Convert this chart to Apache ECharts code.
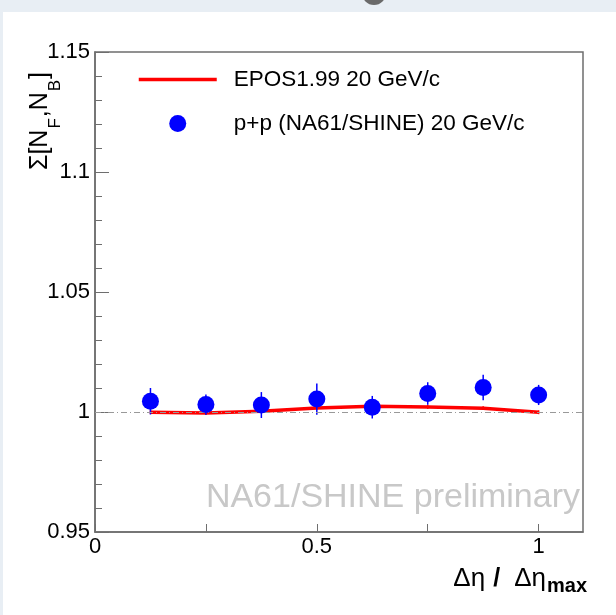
<!DOCTYPE html>
<html>
<head>
<meta charset="utf-8">
<script src="https://cdn.jsdelivr.net/npm/echarts@6/dist/echarts.min.js"></script>
<style>
    html, body { margin: 0; padding: 0; background: #e8eef4; }
    #chart { width: 616px; height: 615px; }
</style>
</head>
<body>
<div id="chart"></div>
<script>
// Δη / Δη_max bins
var xVals = [0.125, 0.25, 0.375, 0.5, 0.625, 0.75, 0.875, 1.0]
// p+p (NA61/SHINE) 20 GeV/c
var ppVals = [1.0045, 1.0031, 1.0029, 1.0054, 1.0020, 1.0077, 1.0102, 1.0071]
var ppErr = [0.0055, 0.0042, 0.0054, 0.0065, 0.0047, 0.0047, 0.0053, 0.0042]
// EPOS1.99 20 GeV/c
var eposVals = [0.9999, 0.9996, 1.0003, 1.0017, 1.0024, 1.0021, 1.0016, 0.9999]
var eposErr = [0.0008, 0.0008, 0.0008, 0.0008, 0.0008, 0.0008, 0.0008, 0.0008]

var xLabels = [0, 0.5, 1]
var refLine = 1

var font = '"Liberation Sans", Arial, Helvetica, sans-serif'

function pairs(xs, ys) {
    return xs.map(function (x, i) { return [x, ys[i]] })
}
function errRows(xs, ys, es) {
    return xs.map(function (x, i) { return [x, ys[i] - es[i], ys[i] + es[i]] })
}
function errBars(color, width) {
    return function (params, api) {
        var lo = api.coord([api.value(0), api.value(1)])
        var hi = api.coord([api.value(0), api.value(2)])
        return {
            type: 'line',
            shape: { x1: lo[0], y1: lo[1], x2: hi[0], y2: hi[1] },
            style: { stroke: color, lineWidth: width }
        }
    }
}

var chart = echarts.init(document.getElementById('chart'))
chart.setOption({
    backgroundColor: '#e8eef4',
    animation: false,
    textStyle: { fontFamily: font },
    graphic: [
        { type: 'rect', z: -10, shape: { x: 3, y: 12, width: 613, height: 603 }, style: { fill: '#ffffff' } },
        { type: 'circle', z: -10, shape: { cx: 374, cy: -7, r: 12 }, style: { fill: '#6a6a6a' } },
        {
            // y axis title, reads bottom to top
            type: 'text', x: 40, y: 121, rotation: Math.PI / 2,
            style: {
                text: '{a|Σ[N}{s|F}{a|,N}{s|B}{a|]}',
                align: 'center', verticalAlign: 'middle', fill: '#000',
                rich: {
                    a: { fontSize: 25, fontFamily: font, fill: '#000' },
                    s: { fontSize: 17, fontFamily: font, fill: '#000', padding: [30, 1, 0, 1] }
                }
            }
        },
        {
            type: 'text', x: 587, y: 579,
            style: {
                text: '{a|Δη}{b|/}{a|Δη}{s|max}',
                align: 'right', verticalAlign: 'middle', fill: '#000',
                rich: {
                    a: { fontSize: 26, fontFamily: font, fill: '#000' },
                    b: { fontSize: 25, fontFamily: font, fontWeight: 'bold', fill: '#000', padding: [0, 14, 0, 8] },
                    s: { fontSize: 20, fontFamily: font, fontWeight: 'bold', fill: '#000', padding: [14, 0, 0, 1] }
                }
            }
        },
        {
            type: 'text', x: 580, y: 498,
            style: {
                text: 'NA61/SHINE preliminary',
                align: 'right', verticalAlign: 'middle',
                fontSize: 34, fontFamily: font, fill: '#c8c8c8'
            }
        }
    ],
    grid: {
        left: 95, right: 33, top: 52, bottom: 83,
        show: true, borderColor: '#6e6e6e', borderWidth: 1.5, backgroundColor: 'transparent'
    },
    legend: {
        orient: 'vertical',
        left: 137, top: 68, padding: 0,
        itemWidth: 78, itemHeight: 17, itemGap: 21,
        data: [
            { name: 'EPOS1.99 20 GeV/c', itemStyle: { opacity: 0 } },
            { name: 'p+p (NA61/SHINE) 20 GeV/c' }
        ],
        lineStyle: { width: 3.5 },
        textStyle: { fontSize: 22.5, lineHeight: 22, color: '#000', fontFamily: font, padding: [0, 0, 0, 12] }
    },
    xAxis: {
        type: 'value', min: 0, max: 1.1, interval: 0.25,
        axisLine: { show: true, lineStyle: { color: '#6e6e6e', width: 1.5 } },
        axisTick: { show: true, inside: true, length: 8, lineStyle: { color: '#6e6e6e' } },
        splitLine: { show: false },
        axisLabel: {
            fontSize: 22, color: '#000', margin: 4, fontFamily: font,
            showMaxLabel: false,
            formatter: function (v) {
                for (var i = 0; i < xLabels.length; i++) {
                    if (Math.abs(v - xLabels[i]) < 1e-6) return String(xLabels[i])
                }
                return ''
            }
        }
    },
    yAxis: {
        type: 'value', min: 0.95, max: 1.15, interval: 0.05,
        axisLine: { show: true, lineStyle: { color: '#6e6e6e', width: 1.5 } },
        axisTick: { show: true, inside: true, length: 14, lineStyle: { color: '#6e6e6e' } },
        minorTick: { show: true, splitNumber: 5, length: 7, lineStyle: { color: '#6e6e6e' } },
        splitLine: { show: false },
        axisLabel: {
            fontSize: 22, color: '#000', margin: 5, fontFamily: font,
            formatter: function (v) { return String(Math.round(v * 100) / 100) }
        }
    },
    series: [
        {
            name: 'EPOS1.99 20 GeV/c',
            type: 'line',
            data: pairs(xVals, eposVals),
            symbol: 'none',
            z: 3,
            lineStyle: { color: '#ff0000', width: 3.5 },
            itemStyle: { color: '#ff0000' },
            markLine: {
                silent: true, symbol: 'none', label: { show: false },
                lineStyle: { color: '#999999', width: 1, type: [6, 3, 1, 3] },
                data: [{ yAxis: refLine }]
            }
        },
        {
            type: 'custom',
            renderItem: errBars('#ff0000', 1.5),
            data: errRows(xVals, eposVals, eposErr),
            z: 3
        },
        {
            type: 'custom',
            renderItem: errBars('#0000ff', 1.5),
            data: errRows(xVals, ppVals, ppErr),
            z: 4
        },
        {
            name: 'p+p (NA61/SHINE) 20 GeV/c',
            type: 'scatter',
            data: pairs(xVals, ppVals),
            symbol: 'circle',
            symbolSize: 17,
            z: 5,
            itemStyle: { color: '#0000ff', opacity: 1 }
        }
    ]
})
</script>
</body>
</html>
